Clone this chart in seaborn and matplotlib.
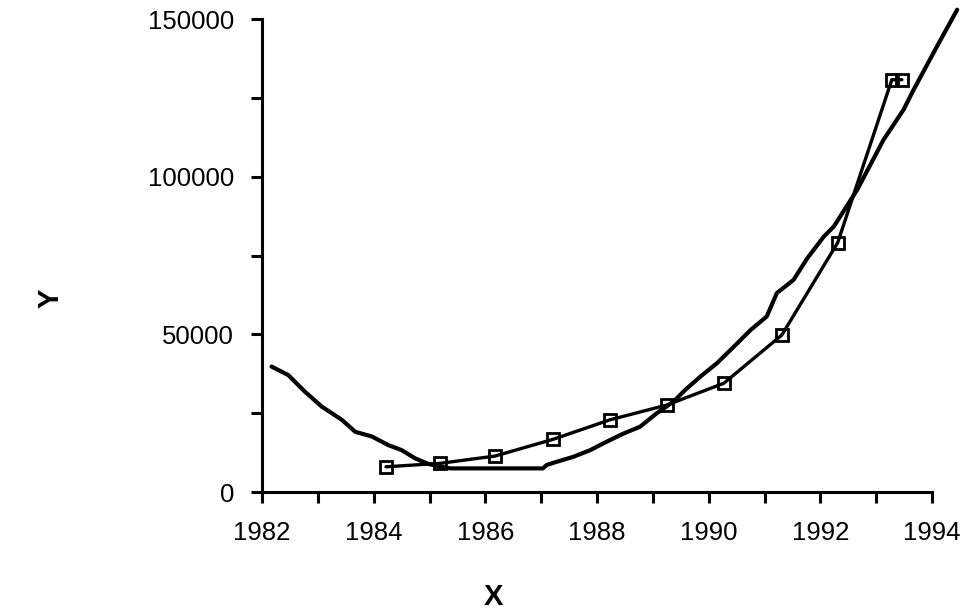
import numpy as np
import matplotlib
matplotlib.use('agg')
import matplotlib.pyplot as plt
from matplotlib.ticker import MultipleLocator
import seaborn as sns

# fitted (smooth) curve
curve_x = [1982.17, 1982.47, 1982.77, 1983.07, 1983.43, 1983.67, 1983.97, 1984.26,
           1984.50, 1984.74, 1984.98, 1985.22, 1985.37, 1987.03, 1987.10, 1987.28,
           1987.58, 1987.88, 1988.12, 1988.48, 1988.77, 1989.07, 1989.37, 1989.58,
           1989.85, 1990.15, 1990.45, 1990.75, 1991.04, 1991.22, 1991.52, 1991.76,
           1992.06, 1992.24, 1992.66, 1993.13, 1993.49, 1993.67, 1994.09, 1994.45]
curve_y = [39800, 37100, 31800, 27100, 22900, 19100, 17600, 14900,
           13300, 10700, 8900, 8000, 7500, 7500, 8600, 9600,
           11200, 13300, 15500, 18600, 20700, 25000, 28700, 32400,
           36600, 40900, 46100, 51400, 55700, 63100, 67300, 74000,
           81000, 84200, 95900, 111700, 121300, 127600, 141400, 153000]

# observed points (square markers)
obs_x = [1984.22, 1985.19, 1986.17, 1987.21, 1988.23, 1989.25, 1990.27,
         1991.31, 1992.31, 1993.28, 1993.46]
obs_y = [8000, 9100, 11400, 16700, 22900, 27600, 34500,
         49800, 79100, 130800, 130800]

xticks = [1982, 1984, 1986, 1988, 1990, 1992, 1994]
yticks = [0, 50000, 100000, 150000]

sns.set_style('ticks')
plt.rcParams['font.family'] = ['Liberation Sans', 'DejaVu Sans']

fig = plt.figure(figsize=(9.64, 6.10), dpi=100)
ax = fig.add_axes([0.2718, 0.1934, 0.724, 0.801])

sns.lineplot(x=curve_x, y=curve_y, ax=ax, sort=False, estimator=None,
             color='black', linewidth=3.0)
sns.lineplot(x=obs_x, y=obs_y, ax=ax, sort=False, estimator=None,
             color='black', linewidth=2.4, marker='s', markersize=9,
             markerfacecolor='none', markeredgecolor='black', markeredgewidth=2.0)

ax.set_xlim(1982, 1994.5)
ax.set_ylim(0, 155000)
sns.despine(ax=ax)
ax.spines['bottom'].set_bounds(1982, 1994)
ax.spines['left'].set_bounds(0, 150000)
for s in ['bottom', 'left']:
    ax.spines[s].set_linewidth(2.2)
    ax.spines[s].set_color('black')

ax.set_xticks(xticks)
ax.set_xticklabels([str(t) for t in xticks], fontsize=18.5)
ax.xaxis.set_minor_locator(MultipleLocator(1))
ax.set_yticks(yticks)
ax.set_yticklabels([str(t) for t in yticks], fontsize=18.5)
ax.yaxis.set_minor_locator(MultipleLocator(25000))
ax.tick_params(axis='x', which='both', length=8, width=2.2, direction='out',
               pad=13, colors='black')
ax.tick_params(axis='y', which='both', length=8, width=2.2, direction='out',
               pad=12, colors='black')

ax.set_xlabel('X', fontsize=21, fontweight='bold', color='black')
ax.set_ylabel('Y', fontsize=21, fontweight='bold', color='black')
ax.xaxis.set_label_coords(0.331, -0.186)
ax.yaxis.set_label_coords(-0.283, 0.397)

fig.savefig('out.png', dpi=100, facecolor='white')
